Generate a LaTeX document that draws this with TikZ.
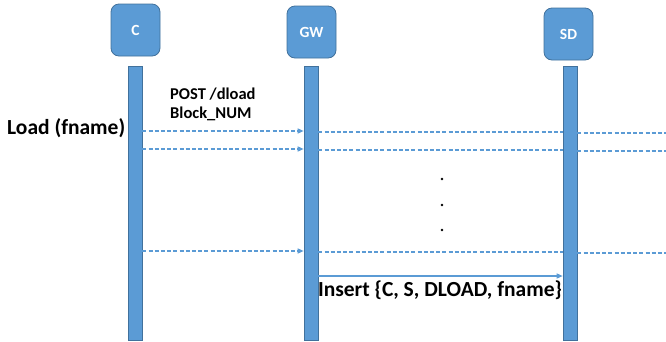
\documentclass[tikz,border=0pt]{standalone}
\usepackage{fontspec}
\setmainfont{Carlito}
\usetikzlibrary{arrows.meta}
\definecolor{boxblue}{HTML}{5B9BD5}
\definecolor{edgeblue}{HTML}{41719C}
\tikzset{
  actor/.style={draw=edgeblue, line width=0.8pt, fill=boxblue, rounded corners=8pt, minimum width=49pt, minimum height=52pt, text=white, font=\bfseries\fontsize{15.5}{18}\selectfont, inner sep=0pt},
  life/.style={draw=edgeblue, line width=0.6pt, fill=boxblue, minimum width=14pt, inner sep=0pt},
  msg/.style={draw=boxblue, line width=1.3pt, dash pattern=on 4pt off 2.2pt},
  tip/.style={-{Triangle[length=6pt,width=5pt]}},
  lbl/.style={font=\bfseries\fontsize{16.5}{19}\selectfont, align=left, inner sep=0pt, anchor=west},
  dotnode/.style={circle, fill=black, inner sep=0pt, minimum size=2.6pt}
}
\begin{document}
\begin{tikzpicture}[x=1pt,y=-1pt]
\useasboundingbox (0,0) rectangle (666,341);
% actors
\node[actor] (C) at (135.5,30) {C};
\node[actor] (GW) at (311.5,32) {GW};
\node[actor] (SD) at (568.5,34) {SD};
% lifelines
\node[life, minimum height=274pt, anchor=north] (Cb) at (135,66) {};
\node[life, minimum height=274pt, anchor=north] (GWb) at (311,66) {};
\node[life, minimum height=274pt, anchor=north] (SDb) at (570,66) {};
% right edge coordinates
\coordinate (R1) at (666,133);
\coordinate (R2) at (666,151);
\coordinate (R3) at (666,253);
% messages
\draw[msg, tip] (Cb.east |- 0,131) -- (GWb.west |- 0,131);
\draw[msg] (GWb.east |- 0,132) -- (SDb.west |- 0,132);
\draw[msg] (SDb.east |- 0,133) -- (R1);
\draw[msg, tip] (Cb.east |- 0,149) -- (GWb.west |- 0,149);
\draw[msg] (GWb.east |- 0,150) -- (SDb.west |- 0,150);
\draw[msg] (SDb.east |- 0,151) -- (R2);
\draw[msg, tip] (Cb.east |- 0,251) -- (GWb.west |- 0,251);
\draw[msg] (GWb.east |- 0,252) -- (SDb.west |- 0,252);
\draw[msg] (SDb.east |- 0,253) -- (R3);
% insert arrow
\draw[draw=boxblue, line width=1.3pt, tip] (GWb.east |- 0,276) -- (SDb.west |- 0,276);
% labels
\node[lbl] (post) at (170,104) {POST /dload\\Block\_NUM};
\node[font=\bfseries\fontsize{21.5}{24}\selectfont, inner sep=0pt, anchor=west] (load) at (7,128) {Load (fname)};
\node[font=\bfseries\fontsize{21.5}{24}\selectfont, inner sep=0pt] (ins) at (440,290) {Insert \{C, S, DLOAD, fname\}};
% dots
\node[dotnode] (d1) at (442,179) {};
\node[dotnode] (d2) at (442,205) {};
\node[dotnode] (d3) at (442,230) {};
\end{tikzpicture}
\end{document}
